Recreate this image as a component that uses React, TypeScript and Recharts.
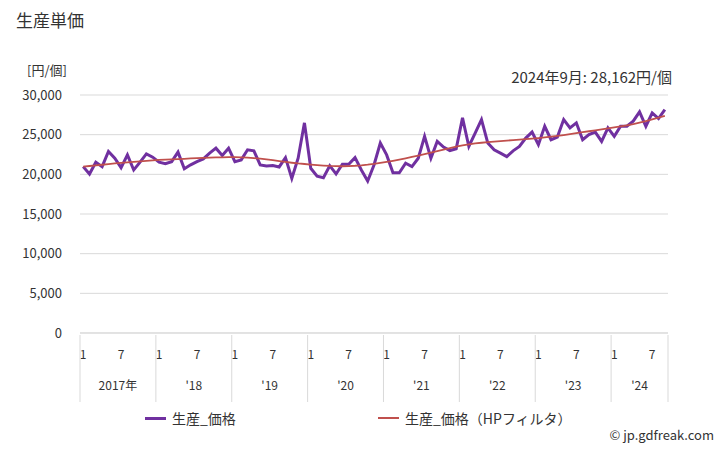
import React from "react";
import {
  LineChart,
  Line,
  XAxis,
  YAxis,
  CartesianGrid,
} from "recharts";

const years = ["2017年", "'18", "'19", "'20", "'21", "'22", "'23", "'24"];
const monthsInYear = [12, 12, 12, 12, 12, 12, 12, 9];

const price = [
  20970, 20040, 21530, 20970, 22880, 22030, 20840, 22450, 20550, 21530, 22580, 22160,
  21530, 21350, 21600, 22800, 20700, 21200, 21600, 21950, 22670, 23300, 22370, 23300,
  21600, 21820, 23090, 22960, 21180, 21050, 21100, 20930, 22110, 19490, 22030, 26490,
  20760, 19780, 19570, 21090, 20040, 21270, 21270, 22110, 20550, 19150, 21180, 23940,
  22450, 20200, 20200, 21400, 20970, 22030, 24780, 22030, 24150, 23430, 23000, 23220,
  27120, 23510, 25200, 26910, 23940, 23090, 22670, 22240, 22960, 23510, 24570, 25330,
  23730, 26060, 24360, 24700, 26910, 25850, 26490, 24360, 25000, 25330, 24150, 25850,
  24780, 26060, 26060, 26700, 27880, 26060, 27750, 27030, 28162,
];

const trend = [
  20970, 21050, 21130, 21210, 21290, 21370, 21440, 21510, 21580, 21640, 21700, 21760,
  21810, 21850, 21890, 21920, 21960, 22000, 22040, 22080, 22110, 22130, 22150, 22160,
  22160, 22150, 22110, 22050, 21970, 21880, 21780, 21670, 21560, 21460, 21370, 21300,
  21230, 21170, 21110, 21060, 21030, 21020, 21040, 21080, 21140, 21220, 21320, 21440,
  21570, 21710, 21860, 22020, 22190, 22360, 22540, 22730, 22920, 23110, 23300, 23480,
  23640, 23780, 23890, 23980, 24060, 24130, 24190, 24250, 24310, 24370, 24430, 24500,
  24570, 24650, 24740, 24840, 24950, 25070, 25190, 25310, 25430, 25550, 25670, 25790,
  25910, 26040, 26180, 26330, 26520, 26720, 26930, 27150, 27380,
];

const yTicks = [0, 5000, 10000, 15000, 20000, 25000, 30000];

const data: { key: string; year: number; month: number; price: number; trend: number }[] = [];
years.forEach((_, yi) => {
  for (let m = 1; m <= monthsInYear[yi]; m++) {
    const i = data.length;
    data.push({ key: `${yi}-${m}`, year: yi, month: m, price: price[i], trend: trend[i] });
  }
});

const FONT = "'Noto Sans CJK JP', 'Noto Sans', sans-serif";
const PLOT_W = 588;
const BW = PLOT_W / data.length;

const MonthTick = (props: any) => {
  const { x, y, payload } = props;
  const d = data[payload.index];
  if (!d) return null;
  const els: any[] = [];
  if (d.month === 1 || d.month === 7) {
    els.push(
      <text key="m" x={x} y={y + 24} textAnchor="middle" fontSize={12} fill="#333">
        {d.month}
      </text>
    );
  }
  if (d.month === 1) {
    const left = x - BW / 2;
    els.push(<line key="l" x1={left} x2={left} y1={y} y2={y + 67} stroke="#d9d9d9" />);
    const cx = left + (monthsInYear[d.year] * BW) / 2;
    els.push(
      <text key="y" x={cx} y={y + 55} textAnchor="middle" fontSize={12} fill="#333">
        {years[d.year]}
      </text>
    );
  }
  if (payload.index === data.length - 1) {
    const right = x + BW / 2;
    els.push(<line key="r" x1={right} x2={right} y1={y} y2={y + 67} stroke="#d9d9d9" />);
  }
  return <g>{els}</g>;
};

export default function App() {
  return (
    <div style={{ position: "absolute", left: 0, top: 0, width: 728, height: 450, background: "#fff", fontFamily: FONT }}>
      <div style={{ position: "absolute", left: 16, top: 7, fontSize: 17, color: "#333" }}>生産単価</div>
      <div style={{ position: "absolute", left: 27, top: 60, fontSize: 13, color: "#333" }}>[円/個]</div>
      <div style={{ position: "absolute", right: 56, top: 66, fontSize: 15, color: "#333" }}>
        2024年9月: 28,162円/個
      </div>
      <LineChart
        width={728}
        height={450}
        data={data}
        margin={{ top: 95, right: 60, bottom: 37, left: 10 }}
        style={{ fontFamily: FONT }}
      >
        <CartesianGrid vertical={false} stroke="#d9d9d9" />
        <XAxis
          dataKey="key"
          interval={0}
          tickLine={false}
          tickSize={0}
          padding={{ left: BW / 2, right: BW / 2 }}
          axisLine={{ stroke: "#d9d9d9" }}
          tick={<MonthTick />}
          height={80}
        />
        <YAxis
          width={70}
          domain={[0, 30000]}
          ticks={yTicks}
          axisLine={false}
          tickLine={false}
          tickMargin={12}
          tickFormatter={(v: number) => v.toLocaleString("en-US")}
          tick={{ fontSize: 13, fill: "#333" }}
        />
        <Line
          type="linear"
          dataKey="price"
          stroke="#7030a0"
          strokeWidth={3}
          dot={false}
          isAnimationActive={false}
        />
        <Line
          type="linear"
          dataKey="trend"
          stroke="#c0504d"
          strokeWidth={1.8}
          dot={false}
          isAnimationActive={false}
        />
      </LineChart>
      <div style={{ position: "absolute", left: 0, top: 407, width: 728, height: 24, fontSize: 14, color: "#333" }}>
        <div style={{ position: "absolute", left: 145, top: 10, width: 21, height: 3, background: "#7030a0" }} />
        <div style={{ position: "absolute", left: 172, top: 0, lineHeight: "22px" }}>生産_価格</div>
        <div style={{ position: "absolute", left: 378, top: 10, width: 21, height: 2, background: "#c0504d" }} />
        <div style={{ position: "absolute", left: 405, top: 0, lineHeight: "22px" }}>生産_価格（HPフィルタ）</div>
      </div>
      <div style={{ position: "absolute", right: 14, top: 425, fontSize: 13, color: "#333" }}>© jp.gdfreak.com</div>
    </div>
  );
}
